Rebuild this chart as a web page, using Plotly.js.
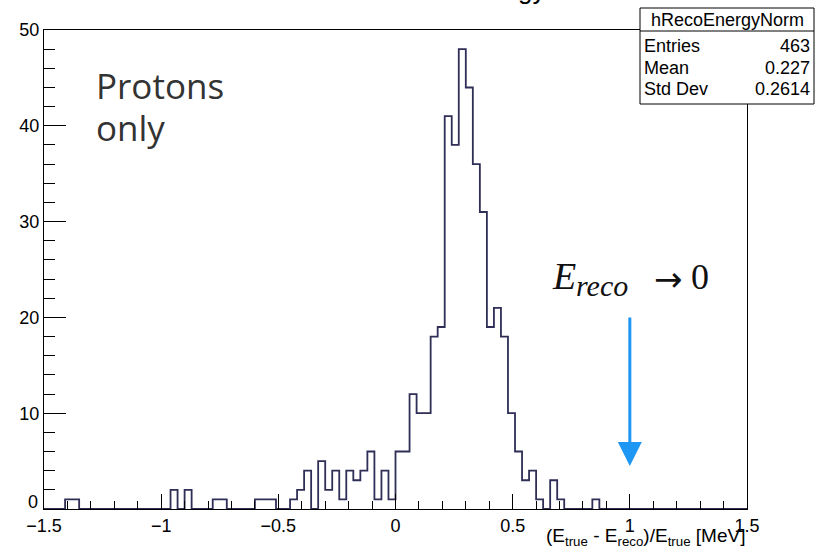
<!DOCTYPE html>
<html>
<head>
<meta charset="utf-8">
<script src="https://cdn.plot.ly/plotly-3.0.1.min.js"></script>
<style>
html,body{margin:0;padding:0;background:#fff;}
#chart{width:818px;height:555px;}
</style>
</head>
<body>
<div id="chart"></div>
<script>
// ---- data ----
const binStart = -1.5;
const binWidth = 0.03;
const counts = [
  0,0,0,1,1,0,0,0,0,0,
  0,0,0,0,0,0,0,0,2,0,
  2,0,0,0,1,1,0,0,0,0,
  1,1,1,0,0,1,2,4,0,5,
  2,4,1,4,3,4,6,1,4,1,
  6,6,12,10,10,18,19,41,38,48,
  44,36,31,19,21,18,10,6,3,4,
  1,0,3,1,0,0,0,0,1,0,
  0,0,0,0,0,0,0,0,0,0,
  0,0,0,0,0,0,0,0,0,0
];
const yTickVals = [0, 10, 20, 30, 40, 50];
const yTickText = ["", "10", "20", "30", "40", "50"];
const statLabels = ["Entries", "Mean", "Std Dev"];
const statValues = ["463", "0.227", "0.2614"];
const histName = "hRecoEnergyNorm";
const arrowX = 1.0;
const arrowTipY = 4.5;

// bin edges
const edges = counts.map((c, i) => binStart + i * binWidth);
edges.push(binStart + counts.length * binWidth);
const yStep = counts.concat([counts[counts.length - 1]]);

// ---- geometry helpers (pixel -> paper) ----
const W = 818, H = 555;
const M = {l: 44, r: 71, t: 30, b: 46};
const PW = W - M.l - M.r, PH = H - M.t - M.b;
const px = X => (X - M.l) / PW;
const py = Y => (H - M.b - Y) / PH;

const helv = "Liberation Sans, Arial, sans-serif";
const serif = "Liberation Serif, DejaVu Serif, serif";

const trace = {
  type: "scatter", mode: "lines",
  x: edges, y: yStep,
  line: {shape: "hv", color: "#2e2e56", width: 1.8},
  hoverinfo: "skip", showlegend: false
};

const shapes = [
  {type: "rect", xref: "paper", yref: "paper", x0: px(640), x1: px(814), y0: py(104), y1: py(8),
   line: {color: "#000", width: 1}, fillcolor: "#fff", layer: "above"},
  {type: "line", xref: "paper", yref: "paper", x0: px(640), x1: px(814), y0: py(31), y1: py(31),
   line: {color: "#000", width: 1}, layer: "above"}
];

const annotations = [
  {xref: "paper", yref: "paper", x: px(547), y: py(7.5), xanchor: "right", yanchor: "bottom",
   text: "Energy", showarrow: false, font: {family: helv, size: 26, color: "#000"}},
  {xref: "paper", yref: "paper", x: px(727), y: py(20), xanchor: "center", yanchor: "middle",
   text: histName, showarrow: false, font: {family: helv, size: 18, color: "#000"}},
  // y=0 tick label (raised, as in the reference)
  {xref: "paper", yref: "paper", x: px(40), y: py(502), xanchor: "right", yanchor: "middle",
   text: "0", showarrow: false, font: {family: helv, size: 18, color: "#000"}}
];
const rowY = [46, 67.5, 89];
statLabels.forEach((lab, i) => {
  annotations.push({xref: "paper", yref: "paper", x: px(642), y: py(rowY[i]), xanchor: "left", yanchor: "middle",
    text: lab, showarrow: false, font: {family: helv, size: 18, color: "#000"}});
  annotations.push({xref: "paper", yref: "paper", x: px(812), y: py(rowY[i]), xanchor: "right", yanchor: "middle",
    text: statValues[i], showarrow: false, font: {family: helv, size: 18, color: "#000"}});
});
annotations.push({xref: "paper", yref: "paper", x: px(747), y: py(537), xanchor: "right", yanchor: "middle",
  text: "(E<sub>true</sub> - E<sub>reco</sub>)/E<sub>true</sub> [MeV]", showarrow: false,
  font: {family: helv, size: 19, color: "#000"}});
// Protons only
annotations.push({xref: "paper", yref: "paper", x: px(94), y: py(86), xanchor: "left", yanchor: "middle",
  text: "Protons", showarrow: false, font: {family: "Open Sans, Noto Sans, sans-serif", size: 35, color: "#333"}});
annotations.push({xref: "paper", yref: "paper", x: px(94), y: py(127), xanchor: "left", yanchor: "middle",
  text: "only", showarrow: false, font: {family: "Open Sans, Noto Sans, sans-serif", size: 35, color: "#333"}});
// E_reco -> 0
annotations.push({xref: "paper", yref: "paper", x: px(550), y: py(276), xanchor: "left", yanchor: "middle",
  text: "<i>E</i>", showarrow: false, font: {family: serif, size: 38, color: "#111"}});
annotations.push({xref: "paper", yref: "paper", x: px(574), y: py(285), xanchor: "left", yanchor: "middle",
  text: "<i>reco</i>", showarrow: false, font: {family: serif, size: 30, color: "#111"}});
annotations.push({xref: "paper", yref: "paper", x: px(652), y: py(279), xanchor: "left", yanchor: "middle",
  text: "\u2192", showarrow: false, font: {family: "DejaVu Sans, sans-serif", size: 34, color: "#111"}});
annotations.push({xref: "paper", yref: "paper", x: px(689), y: py(277), xanchor: "left", yanchor: "middle",
  text: "0", showarrow: false, font: {family: serif, size: 36, color: "#111"}});
// blue arrow
annotations.push({xref: "x", yref: "y", x: arrowX, y: arrowTipY, ax: 0, ay: -150, axref: "pixel", ayref: "pixel",
  text: "", showarrow: true, arrowhead: 2, arrowsize: 1.6, arrowwidth: 3, arrowcolor: "#1e96f3", standoff: 0});

const layout = {
  width: W, height: H,
  margin: M,
  paper_bgcolor: "#fff", plot_bgcolor: "#fff",
  showlegend: false,
  xaxis: {
    range: [-1.5, 1.5], tick0: -1.5, dtick: 0.5, ticks: "inside", ticklen: 15, tickcolor: "#000", tickwidth: 1,
    minor: {dtick: 0.1, tick0: -1.5, ticks: "inside", ticklen: 8, tickcolor: "#000", tickwidth: 1, showgrid: false},
    showline: true, linecolor: "#000", linewidth: 1, mirror: true, showgrid: false, zeroline: false,
    tickfont: {family: helv, size: 18, color: "#000"}
  },
  yaxis: {
    range: [0, 50], tickmode: "array", tickvals: yTickVals, ticktext: yTickText,
    ticks: "inside", ticklen: 22, tickcolor: "#000", tickwidth: 1,
    minor: {dtick: 2, tick0: 0, ticks: "inside", ticklen: 11, tickcolor: "#000", tickwidth: 1, showgrid: false},
    showline: true, linecolor: "#000", linewidth: 1, mirror: true, showgrid: false, zeroline: false,
    tickfont: {family: helv, size: 18, color: "#000"}
  },
  shapes: shapes,
  annotations: annotations
};

Plotly.newPlot("chart", [trace], layout, {staticPlot: true, displayModeBar: false});
</script>
</body>
</html>
